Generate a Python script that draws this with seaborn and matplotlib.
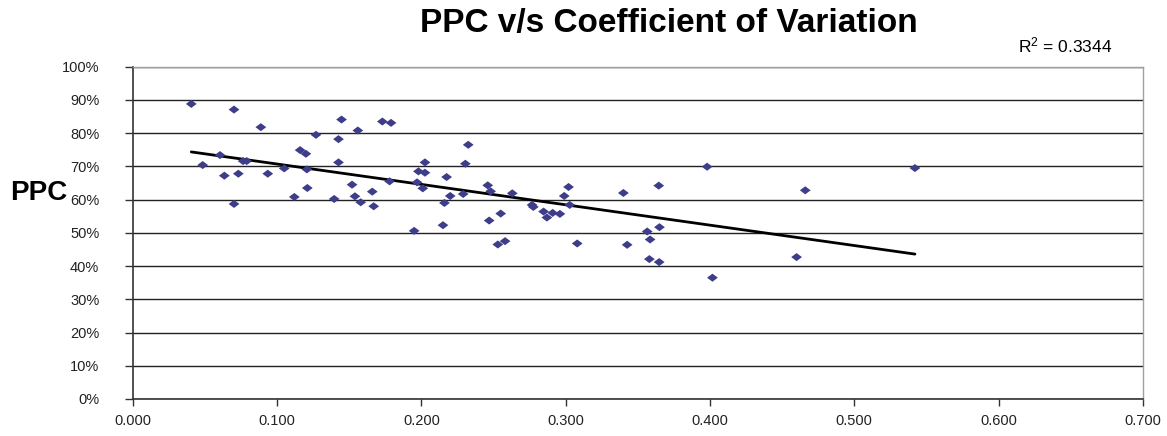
import numpy as np
import pandas as pd
import matplotlib
matplotlib.use("Agg")
import matplotlib.pyplot as plt
import seaborn as sns
from matplotlib.ticker import PercentFormatter, MultipleLocator, FormatStrFormatter

# coefficient of variation vs PPC (percent)
cov = [0.0406, 0.0485, 0.0605, 0.0635, 0.0702, 0.0702, 0.0732, 0.0765, 0.0790, 0.0888,
       0.0936, 0.105, 0.112, 0.116, 0.120, 0.1207, 0.121, 0.127, 0.1396, 0.1426,
       0.1426, 0.1447, 0.152, 0.154, 0.156, 0.158, 0.166, 0.167, 0.173, 0.178,
       0.179, 0.195, 0.197, 0.198, 0.201, 0.2025, 0.2025, 0.215, 0.216, 0.2175,
       0.220, 0.229, 0.2305, 0.2325, 0.246, 0.247, 0.248, 0.253, 0.255, 0.258,
       0.263, 0.2767, 0.2776, 0.2847, 0.287, 0.291, 0.296, 0.299, 0.302, 0.3028,
       0.308, 0.340, 0.3426, 0.3565, 0.358, 0.3585, 0.3645, 0.365, 0.3648, 0.398,
       0.4017, 0.460, 0.466, 0.542]
ppc = [88.8, 70.4, 73.4, 67.2, 87.1, 58.7, 67.8, 71.6, 71.6, 81.8,
       67.8, 69.4, 60.8, 74.9, 73.8, 69.1, 63.5, 79.5, 60.2, 78.2,
       71.2, 84.1, 64.5, 61.0, 80.8, 59.2, 62.4, 58.0, 83.5, 65.5,
       83.1, 50.6, 65.2, 68.5, 63.4, 71.2, 68.1, 52.3, 59.0, 66.8,
       61.1, 61.7, 70.8, 76.5, 64.3, 53.7, 62.5, 46.5, 55.8, 47.5,
       61.9, 58.4, 57.8, 56.4, 54.6, 56.0, 55.7, 61.1, 63.8, 58.4,
       46.8, 62.0, 46.4, 50.4, 42.1, 48.0, 64.2, 51.7, 41.2, 69.9,
       36.5, 42.7, 62.8, 69.5]

df = pd.DataFrame({"cov": cov, "ppc": np.array(ppc) / 100})

sns.set_style("white")
plt.rcParams["font.family"] = ["Liberation Sans", "DejaVu Sans"]
plt.rcParams["mathtext.default"] = "regular"
plt.rcParams["text.color"] = "black"

fig = plt.figure(figsize=(11.67, 4.36), dpi=100)
ax = fig.add_axes([0.1137, 0.0849, 0.8657, 0.7621])

diamond = [(-1, 0), (0, 0.75), (1, 0), (0, -0.75), (-1, 0)]
sns.regplot(data=df, x="cov", y="ppc", ci=None, ax=ax, marker="",
            scatter=False, line_kws=dict(color="black", lw=2))
sns.scatterplot(data=df, x="cov", y="ppc", ax=ax, marker=diamond, s=60,
                color="#3d3d8a", edgecolor="none", zorder=3)

ax.set_xlim(0, 0.7)
ax.set_ylim(0, 1.0)
ax.xaxis.set_major_locator(MultipleLocator(0.1))
ax.xaxis.set_major_formatter(FormatStrFormatter("%.3f"))
ax.yaxis.set_major_locator(MultipleLocator(0.1))
ax.yaxis.set_major_formatter(PercentFormatter(1.0, decimals=0))
ax.yaxis.grid(True, color="#222222", lw=1)
ax.set_axisbelow(True)

for s in ["top", "right"]:
    ax.spines[s].set_color("#a0a0a0")
    ax.spines[s].set_linewidth(1)
for s in ["left", "bottom"]:
    ax.spines[s].set_color("#333333")
    ax.spines[s].set_linewidth(1.2)
ax.tick_params(axis="both", direction="out", length=6, width=1, color="#333333",
               labelsize=10.5, labelcolor="#222222", left=True, bottom=True)
ax.tick_params(axis="y", pad=18)
ax.tick_params(axis="x", length=5, pad=6)

ax.set_xlabel("")
ax.set_ylabel("")
fig.text(0.033, 0.557, "PPC", ha="center", va="center", fontsize=20, fontweight="bold")
fig.text(0.573, 0.945, "PPC v/s Coefficient of Variation", ha="center", va="center",
         fontsize=24, fontweight="bold")
fig.text(0.9126, 0.895, "R$^{ 2}$ = 0.3344", ha="center", va="center", fontsize=12.5)

fig.savefig("out.png", dpi=100)
